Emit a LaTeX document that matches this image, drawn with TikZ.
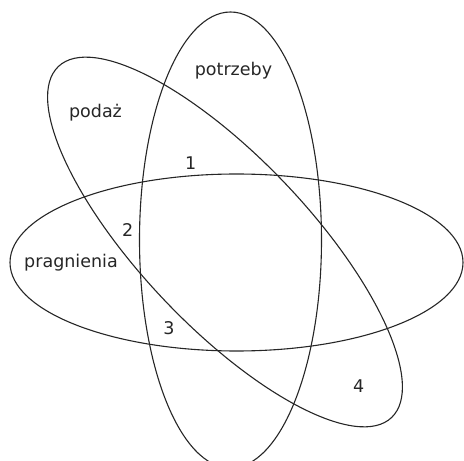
\documentclass[tikz,border=0pt]{standalone}
\usepackage{fontspec}
\setmainfont{DejaVu Sans}
\begin{document}
\begin{tikzpicture}[x=1pt,y=1pt,
  set/.style={draw=black!85,line width=1.1pt},
  lbl/.style={anchor=base,inner sep=0pt,font=\fontsize{17.5}{20}\selectfont,text=black!85}]
\useasboundingbox (0,0) rectangle (464,461);
\draw[set] (230.5,221) ellipse (91 and 228);
\draw[set] (236.5,198.5) ellipse (226.5 and 88.5);
\draw[set,rotate around={-46.5:(225,219)}] (225,219) ellipse (242 and 84);
\node[lbl] (potrzeby) at (233.5,385) {potrzeby};
\node[lbl] (podaz) at (95.5,343) {podaż};
\node[lbl] (n1) at (190.8,291) {1};
\node[lbl] (n2) at (127.8,224) {2};
\node[lbl] (pragnienia) at (71,193) {pragnienia};
\node[lbl] (n3) at (169,126) {3};
\node[lbl] (n4) at (358.7,68) {4};
\end{tikzpicture}
\end{document}
